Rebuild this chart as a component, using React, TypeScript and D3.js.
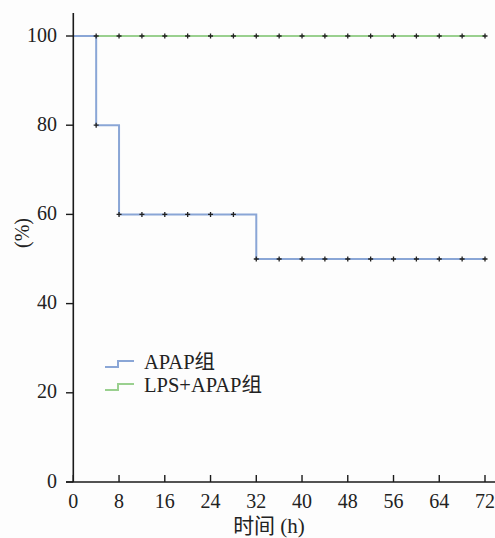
import { useEffect, useRef } from 'react';
import * as d3 from 'd3';

const times = [0, 4, 8, 12, 16, 20, 24, 28, 32, 36, 40, 44, 48, 52, 56, 60, 64, 68, 72];
const apap = [100, 80, 60, 60, 60, 60, 60, 60, 50, 50, 50, 50, 50, 50, 50, 50, 50, 50, 50];
const lpsApap = [100, 100, 100, 100, 100, 100, 100, 100, 100, 100, 100, 100, 100, 100, 100, 100, 100, 100, 100];
const xTicks = [0, 8, 16, 24, 32, 40, 48, 56, 64, 72];
const yTicks = [0, 20, 40, 60, 80, 100];
const seriesNames = ['APAP组', 'LPS+APAP组'];
const seriesColors = ['#8aa6d6', '#9ad08f'];

const FONT = '"Liberation Serif", "Noto Sans CJK SC", serif';

export default function App() {
  const ref = useRef<SVGSVGElement>(null);

  useEffect(() => {
    const width = 495, height = 538;
    const svg = d3.select(ref.current);
    svg.selectAll('*').remove();
    svg.attr('width', width).attr('height', height);

    const x = d3.scaleLinear().domain([0, 72]).range([73.3, 485]);
    const y = d3.scaleLinear().domain([0, 100]).range([482, 36]);

    svg.append('rect').attr('width', width).attr('height', height).attr('fill', '#fdfdfd');

    const line = d3.line<number>()
      .x((_, i) => x(times[i]))
      .y(d => y(d))
      .curve(d3.curveStepAfter);

    const series = [apap, lpsApap];
    // green first so blue sits on top where they overlap
    [1, 0].forEach(k => {
      svg.append('path')
        .datum(series[k])
        .attr('d', line)
        .attr('fill', 'none')
        .attr('stroke', seriesColors[k])
        .attr('stroke-width', 2);
    });

    // censor marks
    series.forEach(vals => {
      const g = svg.append('g');
      vals.forEach((v, i) => {
        if (i === 0) return;
        const cx = x(times[i]), cy = y(v);
        g.append('path')
          .attr('d', `M${cx - 2.5},${cy}H${cx + 2.5}M${cx},${cy - 2.5}V${cy + 2.5}`)
          .attr('stroke', '#222')
          .attr('stroke-width', 1.3);
      });
    });

    // axes
    const axisColor = '#1a1a1a';
    svg.append('line').attr('x1', 73.3).attr('x2', 73.3).attr('y1', 13).attr('y2', 482)
      .attr('stroke', axisColor).attr('stroke-width', 1.6);
    svg.append('line').attr('x1', 66).attr('x2', 495).attr('y1', 482).attr('y2', 482)
      .attr('stroke', axisColor).attr('stroke-width', 1.6);

    yTicks.forEach(t => {
      svg.append('line').attr('x1', 66).attr('x2', 73.3).attr('y1', y(t)).attr('y2', y(t))
        .attr('stroke', axisColor).attr('stroke-width', 1.4);
      svg.append('text').attr('x', 57).attr('y', y(t) + 5.5)
        .attr('text-anchor', 'end').attr('font-family', FONT).attr('font-size', 20)
        .attr('fill', '#222').text(t);
    });

    xTicks.forEach(t => {
      svg.append('line').attr('x1', x(t)).attr('x2', x(t)).attr('y1', 482).attr('y2', 475)
        .attr('stroke', axisColor).attr('stroke-width', 1.4);
      svg.append('text').attr('x', x(t)).attr('y', 508)
        .attr('text-anchor', 'middle').attr('font-family', FONT).attr('font-size', 20)
        .attr('fill', '#222').text(t);
    });

    svg.append('text').attr('x', 269).attr('y', 533)
      .attr('text-anchor', 'middle').attr('font-family', FONT).attr('font-size', 21)
      .attr('fill', '#222').text('时间 (h)');

    svg.append('text')
      .attr('transform', 'translate(29,233) rotate(-90)')
      .attr('text-anchor', 'middle').attr('font-family', FONT).attr('font-size', 20)
      .attr('fill', '#222').text('(%)');

    // legend
    seriesNames.forEach((name, i) => {
      const ly = 367 + i * 23;
      svg.append('path')
        .attr('d', `M105,${ly}H118V${ly - 6}H134`)
        .attr('fill', 'none').attr('stroke', seriesColors[i]).attr('stroke-width', 2);
      svg.append('text').attr('x', 144).attr('y', ly + 2)
        .attr('font-family', FONT).attr('font-size', 20.5).attr('fill', '#222').text(name);
    });
  }, []);

  return <svg ref={ref} style={{ position: 'absolute', left: 0, top: 0 }}></svg>;
}
